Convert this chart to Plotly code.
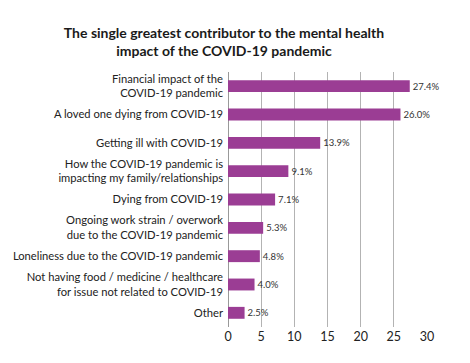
import plotly.graph_objects as go

categories = [
    "Financial impact of the<br>COVID-19 pandemic",
    "A loved one dying from COVID-19",
    "Getting ill with COVID-19",
    "How the COVID-19 pandemic is<br>impacting my family/relationships",
    "Dying from COVID-19",
    "Ongoing work strain / overwork<br>due to the COVID-19 pandemic",
    "Loneliness due to the COVID-19 pandemic",
    "Not having food / medicine / healthcare<br>for issue not related to COVID-19",
    "Other",
]
values = [27.4, 26.0, 13.9, 9.1, 7.1, 5.3, 4.8, 4.0, 2.5]
labels = [f"{v:.1f}%" for v in values]
tick_vals = [0, 5, 10, 15, 20, 25, 30]

# page body has an 8px default margin, so the figure is 8px smaller
W, H = 462, 355

fig = go.Figure(go.Bar(
    x=values, y=categories, orientation="h",
    marker=dict(color="#9b3d94", line=dict(width=0)),
    width=0.42,
    text=labels, textposition="outside", cliponaxis=False,
    textfont=dict(family="Lato", size=12, color="#333333"),
))

fig.update_layout(
    width=W, height=H,
    margin=dict(l=220, r=43, t=64, b=36),
    paper_bgcolor="white", plot_bgcolor="white",
    showlegend=False,
    title=dict(
        text="<b>The single greatest contributor to the mental health<br>impact of the COVID-19 pandemic</b>",
        x=216/W, xanchor="center", xref="container",
        y=1 - 30/H, yanchor="top",
        font=dict(family="Lato", size=14, color="#1a1a1a"),
    ),
    font=dict(family="Lato", color="#222222"),
)
fig.update_xaxes(
    range=[0, 30], tickvals=tick_vals, showgrid=True, gridcolor="#b3b3b3", gridwidth=1,
    zeroline=True, zerolinecolor="#999999", zerolinewidth=1,
    tickfont=dict(family="Lato", size=12.5, color="#222222"), ticks="",
    automargin=False,
)
fig.update_yaxes(
    autorange="reversed", tickfont=dict(family="Lato", size=11.2, color="#222222"),
    ticks="", showgrid=False, automargin=False, ticklabelstandoff=4,
)

fig.write_html("out.html")
